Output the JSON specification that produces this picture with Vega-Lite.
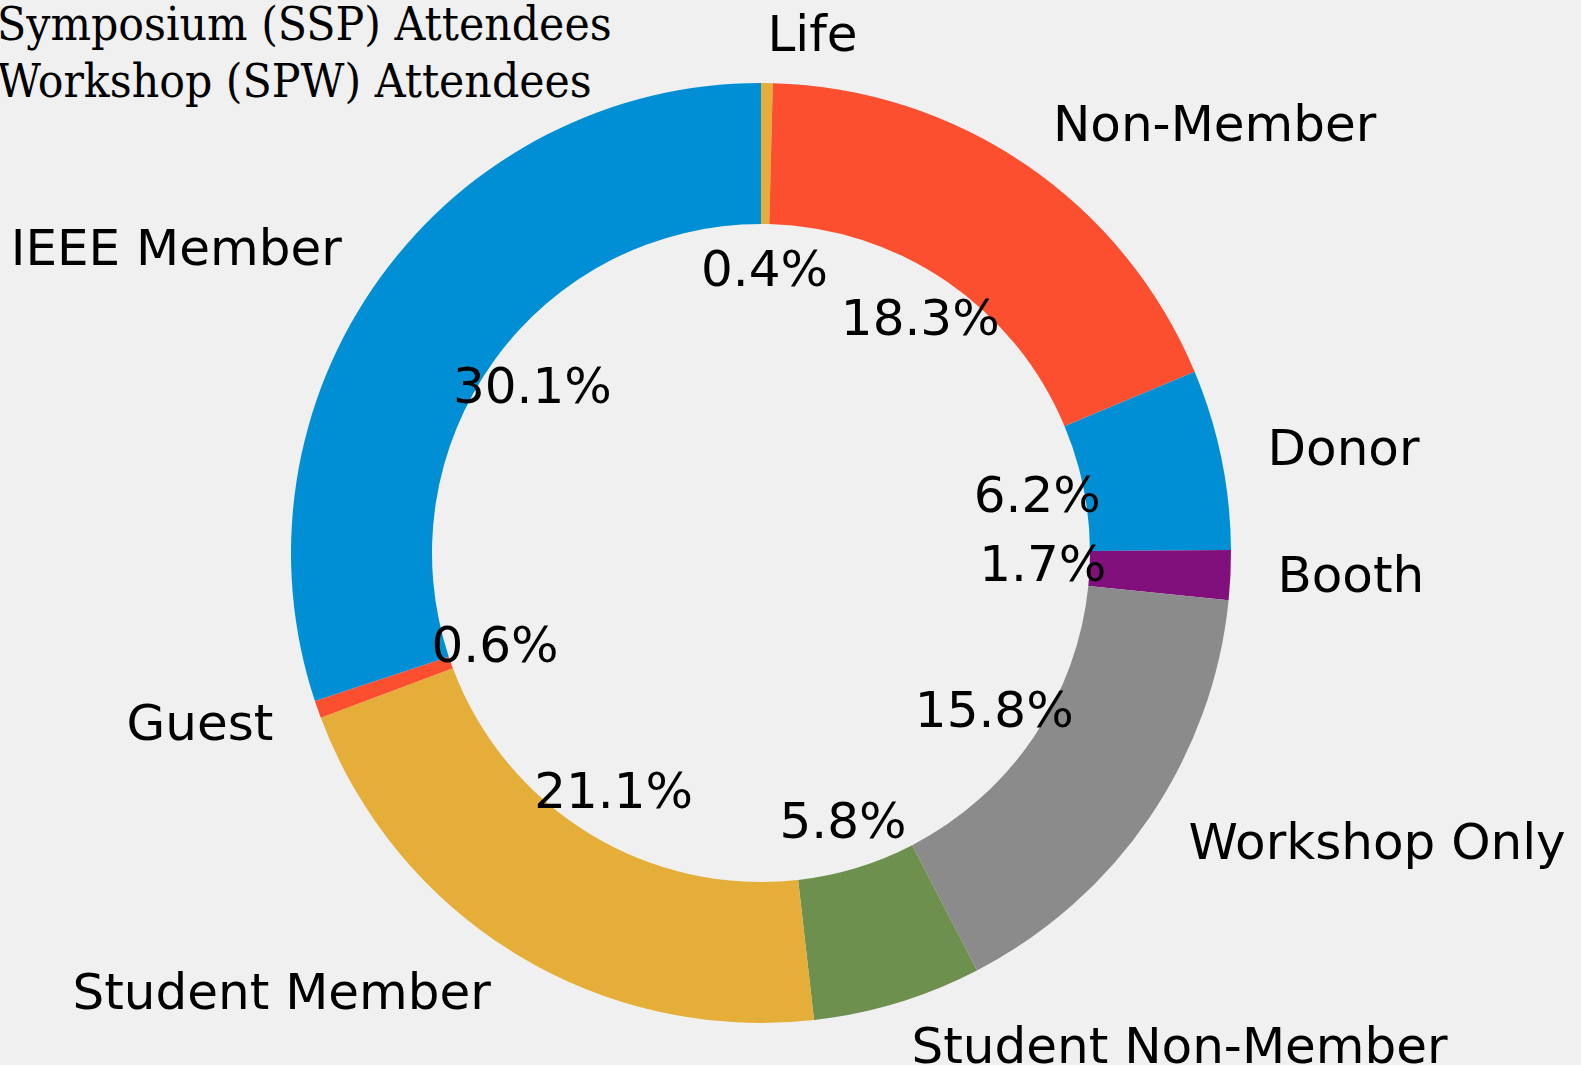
{
  "$schema": "https://vega.github.io/schema/vega-lite/v6.json",
  "width": 1522,
  "height": 1024,
  "autosize": {"type": "none"},
  "padding": {"left": 0, "top": 41, "right": 59, "bottom": 0},
  "background": "#f0f0f0",
  "config": {"view": {"stroke": null}},
  "title": {
    "text": ["Symposium (SSP) Attendees", "Workshop (SPW) Attendees"],
    "anchor": "start",
    "orient": "top",
    "font": "DejaVu Serif Condensed",
    "fontSize": 47.5,
    "fontWeight": "normal",
    "color": "#000",
    "lineHeight": 57,
    "offset": 0,
    "dx": -3,
    "dy": 95
  },
  "data": {
    "values": [
      {"name": "Life", "share": 0.004, "ord": 1},
      {"name": "Non-Member", "share": 0.183, "ord": 2},
      {"name": "Donor", "share": 0.062, "ord": 3},
      {"name": "Booth", "share": 0.017, "ord": 4},
      {"name": "Workshop Only", "share": 0.158, "ord": 5},
      {"name": "Student Non-Member", "share": 0.058, "ord": 6},
      {"name": "Student Member", "share": 0.211, "ord": 7},
      {"name": "Guest", "share": 0.006, "ord": 8},
      {"name": "IEEE Member", "share": 0.301, "ord": 9}
    ]
  },
  "encoding": {
    "theta": {"field": "share", "type": "quantitative", "stack": true},
    "order": {"field": "ord", "type": "quantitative"}
  },
  "layer": [
    {
      "mark": {"type": "arc", "outerRadius": 470, "innerRadius": 329},
      "encoding": {
        "color": {
          "field": "name",
          "type": "nominal",
          "legend": null,
          "scale": {
            "domain": ["Life", "Non-Member", "Donor", "Booth", "Workshop Only", "Student Non-Member", "Student Member", "Guest", "IEEE Member"],
            "range": ["#e5ae38", "#fc4f30", "#008fd5", "#810f7c", "#8b8b8b", "#6d904f", "#e5ae38", "#fc4f30", "#008fd5"]
          }
        }
      }
    },
    {
      "mark": {"type": "text", "radius": 282, "font": "DejaVu Sans", "fontSize": 50, "color": "#000", "align": "center", "baseline": "middle"},
      "encoding": {"text": {"field": "share", "type": "quantitative", "format": ".1%"}}
    },
    {
      "mark": {"type": "text", "radius": 517, "font": "DejaVu Sans", "fontSize": 50, "color": "#000", "baseline": "middle",
        "align": {"expr": "datum.share_start + datum.share_end > 1 ? 'right' : 'left'"}},
      "encoding": {"text": {"field": "name", "type": "nominal"}}
    }
  ]
}
